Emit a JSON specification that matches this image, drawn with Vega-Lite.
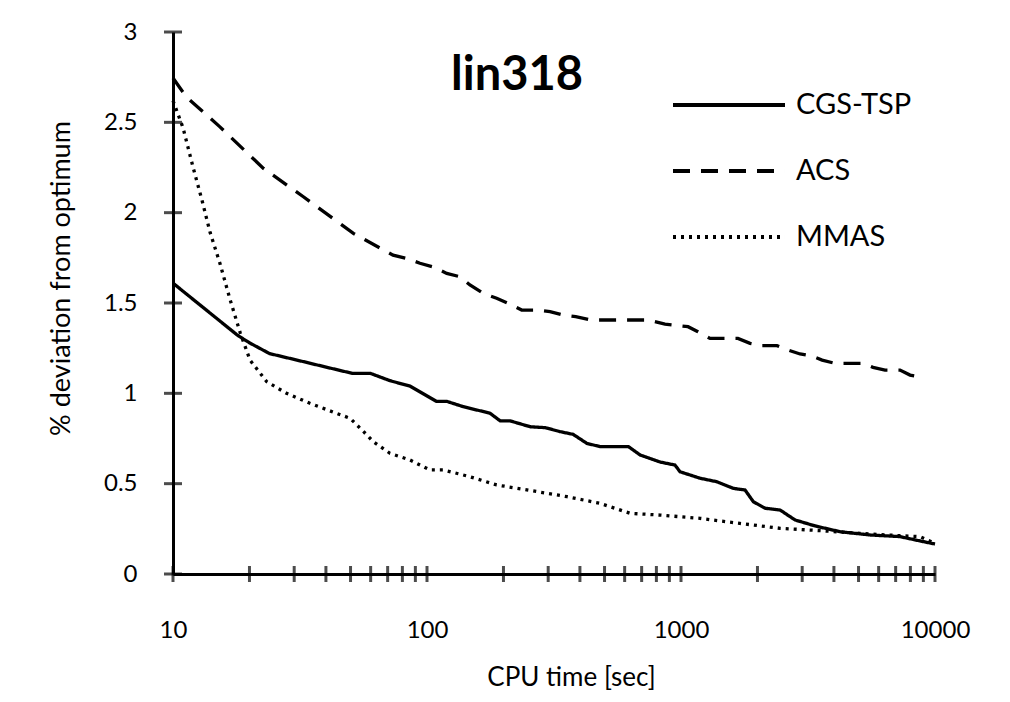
{
  "$schema": "https://vega.github.io/schema/vega-lite/v6.json",
  "width": 762,
  "height": 542,
  "autosize": {"type": "none"},
  "padding": {"left": 173, "top": 32, "right": 75, "bottom": 128},
  "background": "white",
  "config": {"view": {"stroke": null}, "font": "Lato"},
  "title": {"text": "lin318", "fontSize": 47, "fontWeight": "bold", "font": "Lato", "color": "#000", "anchor": "middle", "frame": "group", "dx": -37, "offset": -117, "baseline": "alphabetic"},
  "datasets": {
    "curves": [
      {"t": 10, "v": 1.61, "series": "CGS-TSP"},
      {"t": 12, "v": 1.52, "series": "CGS-TSP"},
      {"t": 15, "v": 1.41, "series": "CGS-TSP"},
      {"t": 18, "v": 1.32, "series": "CGS-TSP"},
      {"t": 20.1, "v": 1.278, "series": "CGS-TSP"},
      {"t": 24, "v": 1.22, "series": "CGS-TSP"},
      {"t": 31.6, "v": 1.18, "series": "CGS-TSP"},
      {"t": 41.5, "v": 1.14, "series": "CGS-TSP"},
      {"t": 51, "v": 1.11, "series": "CGS-TSP"},
      {"t": 60, "v": 1.11, "series": "CGS-TSP"},
      {"t": 71.5, "v": 1.07, "series": "CGS-TSP"},
      {"t": 85.7, "v": 1.04, "series": "CGS-TSP"},
      {"t": 109, "v": 0.955, "series": "CGS-TSP"},
      {"t": 120, "v": 0.955, "series": "CGS-TSP"},
      {"t": 139, "v": 0.926, "series": "CGS-TSP"},
      {"t": 177, "v": 0.89, "series": "CGS-TSP"},
      {"t": 194, "v": 0.848, "series": "CGS-TSP"},
      {"t": 212, "v": 0.848, "series": "CGS-TSP"},
      {"t": 255, "v": 0.815, "series": "CGS-TSP"},
      {"t": 292, "v": 0.81, "series": "CGS-TSP"},
      {"t": 334, "v": 0.788, "series": "CGS-TSP"},
      {"t": 376, "v": 0.773, "series": "CGS-TSP"},
      {"t": 426, "v": 0.723, "series": "CGS-TSP"},
      {"t": 480, "v": 0.705, "series": "CGS-TSP"},
      {"t": 621, "v": 0.705, "series": "CGS-TSP"},
      {"t": 690, "v": 0.659, "series": "CGS-TSP"},
      {"t": 827, "v": 0.62, "series": "CGS-TSP"},
      {"t": 947, "v": 0.603, "series": "CGS-TSP"},
      {"t": 991, "v": 0.566, "series": "CGS-TSP"},
      {"t": 1189, "v": 0.53, "series": "CGS-TSP"},
      {"t": 1381, "v": 0.511, "series": "CGS-TSP"},
      {"t": 1607, "v": 0.474, "series": "CGS-TSP"},
      {"t": 1787, "v": 0.465, "series": "CGS-TSP"},
      {"t": 1927, "v": 0.4, "series": "CGS-TSP"},
      {"t": 2143, "v": 0.364, "series": "CGS-TSP"},
      {"t": 2456, "v": 0.354, "series": "CGS-TSP"},
      {"t": 2813, "v": 0.299, "series": "CGS-TSP"},
      {"t": 3373, "v": 0.266, "series": "CGS-TSP"},
      {"t": 4230, "v": 0.234, "series": "CGS-TSP"},
      {"t": 5548, "v": 0.216, "series": "CGS-TSP"},
      {"t": 7279, "v": 0.207, "series": "CGS-TSP"},
      {"t": 8730, "v": 0.183, "series": "CGS-TSP"},
      {"t": 10000, "v": 0.166, "series": "CGS-TSP"},
      {"t": 10, "v": 2.745, "series": "ACS"},
      {"t": 11.3, "v": 2.64, "series": "ACS"},
      {"t": 15.3, "v": 2.475, "series": "ACS"},
      {"t": 22.7, "v": 2.245, "series": "ACS"},
      {"t": 32.6, "v": 2.088, "series": "ACS"},
      {"t": 51.3, "v": 1.885, "series": "ACS"},
      {"t": 73.5, "v": 1.765, "series": "ACS"},
      {"t": 83.2, "v": 1.747, "series": "ACS"},
      {"t": 93.8, "v": 1.72, "series": "ACS"},
      {"t": 105.7, "v": 1.7, "series": "ACS"},
      {"t": 119.6, "v": 1.664, "series": "ACS"},
      {"t": 135, "v": 1.645, "series": "ACS"},
      {"t": 147.6, "v": 1.6, "series": "ACS"},
      {"t": 166.6, "v": 1.553, "series": "ACS"},
      {"t": 188, "v": 1.526, "series": "ACS"},
      {"t": 209, "v": 1.498, "series": "ACS"},
      {"t": 236, "v": 1.461, "series": "ACS"},
      {"t": 270, "v": 1.461, "series": "ACS"},
      {"t": 305, "v": 1.452, "series": "ACS"},
      {"t": 344, "v": 1.433, "series": "ACS"},
      {"t": 385, "v": 1.424, "series": "ACS"},
      {"t": 440, "v": 1.406, "series": "ACS"},
      {"t": 575, "v": 1.406, "series": "ACS"},
      {"t": 741, "v": 1.406, "series": "ACS"},
      {"t": 865, "v": 1.383, "series": "ACS"},
      {"t": 1066, "v": 1.369, "series": "ACS"},
      {"t": 1166, "v": 1.341, "series": "ACS"},
      {"t": 1301, "v": 1.304, "series": "ACS"},
      {"t": 1676, "v": 1.304, "series": "ACS"},
      {"t": 1870, "v": 1.277, "series": "ACS"},
      {"t": 2085, "v": 1.264, "series": "ACS"},
      {"t": 2388, "v": 1.264, "series": "ACS"},
      {"t": 2638, "v": 1.24, "series": "ACS"},
      {"t": 2942, "v": 1.218, "series": "ACS"},
      {"t": 3281, "v": 1.206, "series": "ACS"},
      {"t": 3594, "v": 1.184, "series": "ACS"},
      {"t": 4040, "v": 1.166, "series": "ACS"},
      {"t": 5207, "v": 1.166, "series": "ACS"},
      {"t": 5703, "v": 1.144, "series": "ACS"},
      {"t": 6355, "v": 1.129, "series": "ACS"},
      {"t": 7282, "v": 1.129, "series": "ACS"},
      {"t": 7976, "v": 1.101, "series": "ACS"},
      {"t": 8970, "v": 1.087, "series": "ACS"},
      {"t": 10, "v": 2.62, "series": "MMAS"},
      {"t": 10.95, "v": 2.47, "series": "MMAS"},
      {"t": 12, "v": 2.25, "series": "MMAS"},
      {"t": 13, "v": 2.07, "series": "MMAS"},
      {"t": 14, "v": 1.89, "series": "MMAS"},
      {"t": 15.3, "v": 1.72, "series": "MMAS"},
      {"t": 16.8, "v": 1.516, "series": "MMAS"},
      {"t": 18.4, "v": 1.334, "series": "MMAS"},
      {"t": 20.1, "v": 1.184, "series": "MMAS"},
      {"t": 23.4, "v": 1.064, "series": "MMAS"},
      {"t": 28, "v": 1.0, "series": "MMAS"},
      {"t": 34.6, "v": 0.945, "series": "MMAS"},
      {"t": 44.1, "v": 0.889, "series": "MMAS"},
      {"t": 49.8, "v": 0.862, "series": "MMAS"},
      {"t": 56.3, "v": 0.788, "series": "MMAS"},
      {"t": 61.5, "v": 0.732, "series": "MMAS"},
      {"t": 71.5, "v": 0.668, "series": "MMAS"},
      {"t": 85.7, "v": 0.631, "series": "MMAS"},
      {"t": 102.6, "v": 0.576, "series": "MMAS"},
      {"t": 116, "v": 0.576, "series": "MMAS"},
      {"t": 147, "v": 0.539, "series": "MMAS"},
      {"t": 188, "v": 0.493, "series": "MMAS"},
      {"t": 239, "v": 0.469, "series": "MMAS"},
      {"t": 356, "v": 0.428, "series": "MMAS"},
      {"t": 480, "v": 0.391, "series": "MMAS"},
      {"t": 630, "v": 0.336, "series": "MMAS"},
      {"t": 827, "v": 0.326, "series": "MMAS"},
      {"t": 1189, "v": 0.308, "series": "MMAS"},
      {"t": 1705, "v": 0.28, "series": "MMAS"},
      {"t": 2456, "v": 0.253, "series": "MMAS"},
      {"t": 3530, "v": 0.24, "series": "MMAS"},
      {"t": 5070, "v": 0.225, "series": "MMAS"},
      {"t": 7280, "v": 0.212, "series": "MMAS"},
      {"t": 8730, "v": 0.207, "series": "MMAS"},
      {"t": 10000, "v": 0.17, "series": "MMAS"}
    ],
    "xticks": [
      {"t": 10}, {"t": 20}, {"t": 30}, {"t": 40}, {"t": 50}, {"t": 60}, {"t": 70}, {"t": 80}, {"t": 90},
      {"t": 100}, {"t": 200}, {"t": 300}, {"t": 400}, {"t": 500}, {"t": 600}, {"t": 700}, {"t": 800}, {"t": 900},
      {"t": 1000}, {"t": 2000}, {"t": 3000}, {"t": 4000}, {"t": 5000}, {"t": 6000}, {"t": 7000}, {"t": 8000}, {"t": 9000},
      {"t": 10000}
    ],
    "yticks": [
      {"v": 0}, {"v": 0.5}, {"v": 1}, {"v": 1.5}, {"v": 2}, {"v": 2.5}, {"v": 3}
    ]
  },
  "layer": [
    {
      "data": {"name": "curves"},
      "mark": {"type": "line", "color": "black", "strokeWidth": 3.3, "clip": false},
      "encoding": {
        "x": {
          "field": "t", "type": "quantitative",
          "scale": {"type": "log", "domain": [10, 10000]},
          "axis": {
            "title": "CPU time [sec]", "values": [10, 100, 1000, 10000], "format": "~g",
            "ticks": false, "labelPadding": 44, "labelFontSize": 24, "labelColor": "black", "labelFont": "Lato",
            "labelFlush": false, "labelOverlap": false, "labelBound": false,
            "titleFontSize": 26, "titleFontWeight": "normal", "titleColor": "black", "titleFont": "Lato", "titlePadding": 22,
            "titleX": 398,
            "domainColor": "black", "domainWidth": 3, "grid": false
          }
        },
        "y": {
          "field": "v", "type": "quantitative",
          "scale": {"domain": [0, 3], "nice": false, "zero": false},
          "axis": {
            "title": "% deviation from optimum", "values": [0, 0.5, 1, 1.5, 2, 2.5, 3], "format": "~g",
            "ticks": false, "labelPadding": 36, "labelFontSize": 24, "labelColor": "black", "labelFont": "Lato",
            "labelFlush": false, "labelOverlap": false, "labelBound": false,
            "titleFontSize": 27, "titleFontWeight": "normal", "titleColor": "black", "titleFont": "Lato", "titlePadding": 28,
            "titleY": 246,
            "domainColor": "black", "domainWidth": 3, "grid": false
          }
        },
        "strokeDash": {
          "field": "series", "type": "nominal",
          "scale": {"domain": ["CGS-TSP", "ACS", "MMAS"], "range": [[1, 0], [17, 11], [3, 5]]},
          "legend": {
            "title": null, "orient": "none", "legendX": 498, "legendY": 22, "padding": 0,
            "symbolType": "M-1.1429,0H1.1429", "symbolSize": 9604, "symbolStrokeWidth": 4, "symbolStrokeColor": "black",
            "symbolOffset": 7, "symbolFillColor": "transparent",
            "labelFontSize": 29, "labelColor": "black", "labelFont": "Lato", "labelOffset": 16, "rowPadding": 0
          }
        }
      }
    },
    {
      "data": {"name": "xticks"},
      "mark": {"type": "tick", "orient": "vertical", "color": "black", "thickness": 3, "size": 16},
      "encoding": {
        "x": {"field": "t", "type": "quantitative", "title": "CPU time [sec]"},
        "y": {"datum": 0}
      }
    },
    {
      "data": {"name": "yticks"},
      "mark": {"type": "tick", "orient": "horizontal", "color": "black", "thickness": 3, "size": 18},
      "encoding": {
        "y": {"field": "v", "type": "quantitative", "title": "% deviation from optimum"},
        "x": {"datum": 10}
      }
    }
  ]
}
